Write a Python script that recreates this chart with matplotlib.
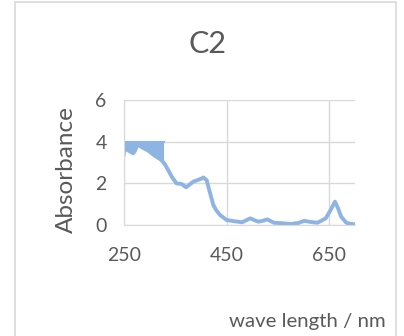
import matplotlib.pyplot as plt
from matplotlib.patches import Rectangle

# spectrum (wave length in nm, absorbance)
wl = [323, 330, 336, 343, 352, 362, 371, 385, 398, 405, 411, 418, 424, 430, 437,
      450, 465, 480, 496, 505, 512, 520, 529, 542, 560, 575, 590, 601, 615, 627,
      643, 652, 661, 667, 673, 683, 690, 700]
absb = [3.12, 2.9, 2.64, 2.32, 2.0, 1.97, 1.81, 2.08, 2.2, 2.28, 2.15, 1.5, 0.96,
        0.7, 0.48, 0.24, 0.18, 0.13, 0.32, 0.22, 0.16, 0.2, 0.27, 0.11, 0.08,
        0.05, 0.1, 0.2, 0.14, 0.11, 0.32, 0.7, 1.12, 0.8, 0.4, 0.11, 0.06, 0.03]

# saturated (noisy) part below 327 nm: clipped at 4 above, lower envelope below
wl_sat = [250, 251, 254, 262, 268, 272, 277, 284, 297, 310, 323, 327]
low_sat = [3.36, 3.6, 3.62, 3.5, 3.42, 3.55, 3.85, 3.72, 3.55, 3.3, 3.1, 3.0]
high_sat = [4.0, 4.0, 4.0, 4.0, 4.0, 4.0, 4.0, 4.0, 4.0, 4.0, 4.0, 4.0]

xticks = [250, 450, 650]
yticks = [0, 2, 4, 6]

col = '#8EB4E3'
txt = '#595959'
plt.rcParams['font.family'] = ['Lato', 'DejaVu Sans']

fig = plt.figure(figsize=(4.04, 3.36), dpi=100)
ax = fig.add_axes([124 / 404, 1 - 225 / 336, 231 / 404, 125 / 336])

ax.fill_between(wl_sat, low_sat, high_sat, color=col, lw=0)
ax.plot(wl_sat, low_sat, color=col, lw=2.2, solid_joinstyle='round')
ax.plot(wl_sat, high_sat, color=col, lw=1.5)
ax.plot(wl, absb, color=col, lw=2.8, solid_capstyle='round', solid_joinstyle='round')

ax.set_xlim(250, 700)
ax.set_ylim(0, 6)
ax.set_xticks(xticks)
ax.set_yticks(yticks)
ax.grid(True, color='#D9D9D9', lw=1)
ax.set_axisbelow(True)
for s in ['top', 'right']:
    ax.spines[s].set_visible(False)
for s in ['left', 'bottom']:
    ax.spines[s].set_color('#D9D9D9')
ax.tick_params(length=0, labelsize=14, colors=txt)
ax.tick_params(axis='y', pad=12.5)
ax.tick_params(axis='x', pad=16)

fig.text(208 / 404, 1 - 44 / 336, 'C2', ha='center', va='center', fontsize=22, color=txt)
fig.text(66 / 404, 1 - 170 / 336, 'Absorbance', ha='center', va='center',
         rotation=90, fontsize=17.5, color=txt)
fig.text(307 / 404, 1 - 322 / 336, 'wave length / nm', ha='center', va='center',
         fontsize=14.7, color=txt)

fig.patches.append(Rectangle((15 / 404, -0.05), 381 / 404, 1.05 - 1.5 / 336,
                             transform=fig.transFigure, fill=False,
                             edgecolor='#D9D9D9', lw=1.2))

fig.savefig('out.png', dpi=100)
